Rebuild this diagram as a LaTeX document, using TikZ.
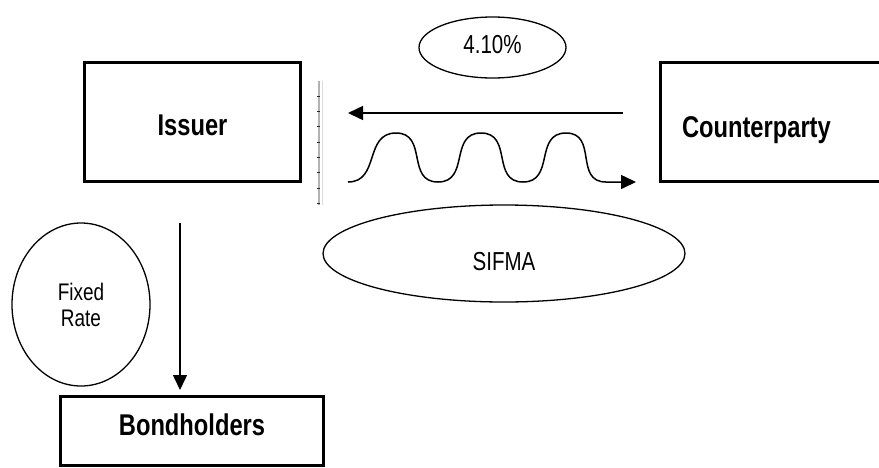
\documentclass[tikz,border=0pt]{standalone}
\usepackage{fontspec}
\usetikzlibrary{arrows.meta,shapes.geometric}
\newfontfamily\narrowsans[FakeStretch=0.79]{Liberation Sans}

\tikzset{
  party/.style={draw, rectangle, line width=3.2pt, outer sep=0pt, inner sep=0pt,
    font=\narrowsans\bfseries\fontsize{30}{34}\selectfont},
  rate/.style={draw, ellipse, line width=1.3pt, outer sep=0pt, inner sep=0pt,
    font=\narrowsans\fontsize{26}{28}\selectfont},
  flow/.style={line width=1.5pt, -{Triangle[length=15pt,width=14pt]}},
}

\begin{document}
\begin{tikzpicture}[x=1pt, y=-1pt]
  \useasboundingbox (0,0) rectangle (879,467);
  \clip (0,0) rectangle (879,467);

  % parties
  \node[party, minimum width=216pt, minimum height=119pt,
        text height=26pt, text depth=0pt] (issuer) at (192.5,122) {Issuer};
  \node[party, minimum width=250pt, minimum height=119pt, anchor=west,
        inner xsep=21.5pt, text width=207pt, align=left,
        text height=30pt, text depth=0pt] (cparty) at (660.5,122) {Counterparty};
  \node[party, minimum width=263pt, minimum height=69pt,
        text height=22pt, text depth=14pt] (bonds) at (192,431) {Bondholders};

  % rates
  \node[rate, minimum width=147pt, minimum height=61pt,
        text height=11pt, text depth=0pt] (fixed) at (492.5,47.5) {4.10\%};
  \node[rate, minimum width=362pt, minimum height=97pt,
        text height=33pt, text depth=0pt] (sifma) at (504,253.5) {SIFMA};
  \node[rate, minimum width=138pt, minimum height=163pt, align=center,
        font=\narrowsans\fontsize{24}{26}\selectfont] (coupon) at (81,304.5) {Fixed\\Rate};

  % swap boundary on the issuer side
  \draw[gray!60, line width=2pt] (318.5,81) -- (318.5,205);
  \draw[gray!28, line width=1.3pt] (322.5,81) -- (322.5,205);
  \foreach \k in {0,...,7}
    \draw[gray!30!black, line width=0.6pt] (317,96+15.3*\k) -- (320,96+15.3*\k);

  % fixed leg: counterparty pays issuer
  \coordinate (fixA) at (623,113);
  \coordinate (fixB) at (348,113);
  \draw[flow] (fixA) -- (fixB);

  % floating leg: wavy arrow from issuer towards counterparty
  \coordinate (floatA) at (348,182);
  \coordinate (floatB) at (636,182);
  \draw[flow] (floatA)
    .. controls (380,182) and (364,133) .. (396,133)
    .. controls (428,133) and (406,182) .. (438,182)
    .. controls (470,182) and (449,133) .. (481,133)
    .. controls (513,133) and (491,182) .. (523,182)
    .. controls (555,182) and (534,133) .. (566,133)
    .. controls (598,133) and (574,182) .. (606,182)
    -- (floatB);

  % coupon payments to bondholders
  \coordinate (payA) at (180,223);
  \coordinate (payB) at (180,390);
  \draw[flow] (payA) -- (payB);
\end{tikzpicture}
\end{document}
